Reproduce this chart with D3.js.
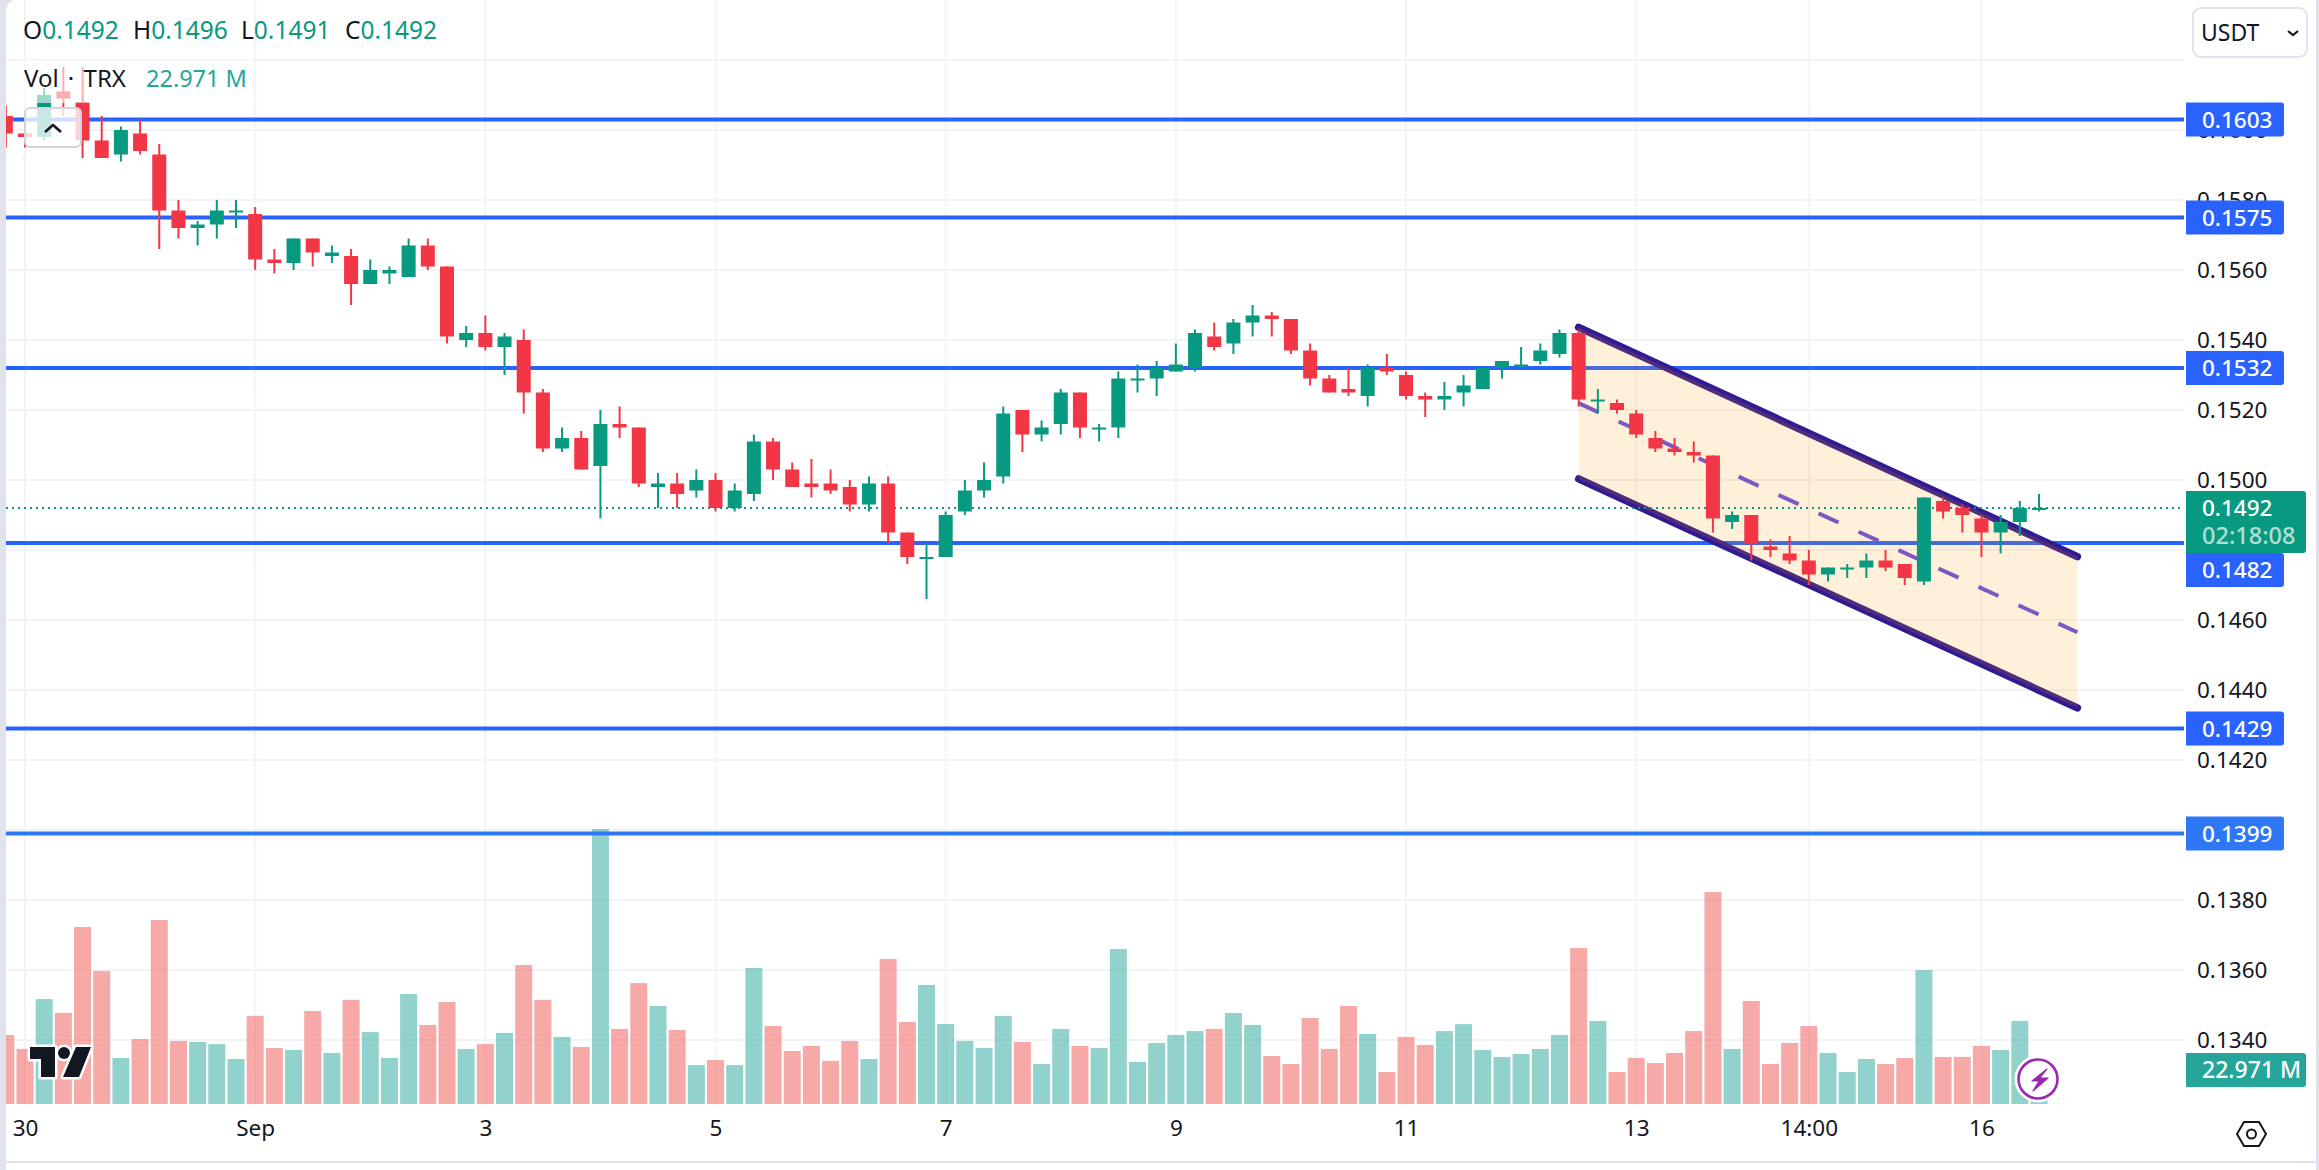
<!DOCTYPE html>
<html>
<head>
<meta charset="utf-8">
<title>TRX/USDT</title>
<script src="https://cdn.jsdelivr.net/npm/d3@7"></script>
<style>
  html, body { margin: 0; padding: 0; background: #fff; }
  svg { display: block; font-family: "Noto Sans", sans-serif; }
</style>
</head>
<body>
<svg id="chart" width="2319" height="1170"></svg>
<script>
// 4h candles, first one is cut off by the left edge of the pane
const firstBar = -1;
const opens = [0.1604,0.1599,0.1598,0.1611,0.1608,0.1597,0.1593,0.1599,0.1593,0.1577,0.1572,0.1573,0.1577,0.1576,0.1563,0.1562,0.1569,0.1564,0.1564,0.1556,0.1559,0.1558,0.1567,0.1561,0.1540,0.1542,0.1538,0.1540,0.1525,0.1509,0.1512,0.1504,0.1516,0.1515,0.1498,0.1499,0.1497,0.1500,0.1492,0.1496,0.1511,0.1503,0.1499,0.1499,0.1498,0.1493,0.1499,0.1485,0.1478,0.1478,0.1491,0.1497,0.1501,0.1520,0.1513,0.1516,0.1525,0.1515,0.1515,0.1529,0.1529,0.1531,0.1532,0.1541,0.1539,0.1545,0.1547,0.1546,0.1537,0.1529,0.1526,0.1524,0.1532,0.1530,0.1524,0.1523,0.1525,0.1526,0.1532,0.1533,0.1534,0.1536,0.1542,0.1523,0.1522,0.1519,0.1512,0.1509,0.1508,0.1507,0.1488,0.1490,0.1481,0.1479,0.1477,0.1473,0.1475,0.1475,0.1477,0.1476,0.1471,0.1494,0.1492,0.1489,0.1485,0.1488,0.1492];
const highs = [0.1607,0.1600,0.1612,0.1618,0.1618,0.1604,0.1601,0.1603,0.1596,0.1580,0.1574,0.1580,0.1580,0.1578,0.1566,0.1569,0.1569,0.1567,0.1566,0.1563,0.1561,0.1569,0.1569,0.1561,0.1544,0.1547,0.1542,0.1543,0.1526,0.1515,0.1514,0.1520,0.1521,0.1515,0.1502,0.1502,0.1503,0.1502,0.1499,0.1513,0.1512,0.1505,0.1506,0.1503,0.1500,0.1501,0.1501,0.1485,0.1482,0.1491,0.1500,0.1505,0.1521,0.1520,0.1517,0.1526,0.1525,0.1516,0.1531,0.1533,0.1534,0.1539,0.1543,0.1545,0.1546,0.1550,0.1548,0.1546,0.1539,0.1530,0.1532,0.1533,0.1536,0.1531,0.1525,0.1528,0.1530,0.1532,0.1534,0.1538,0.1539,0.1543,0.1543,0.1526,0.1523,0.1520,0.1514,0.1512,0.1511,0.1507,0.1491,0.1490,0.1483,0.1484,0.1480,0.1475,0.1476,0.1479,0.1480,0.1476,0.1495,0.1495,0.1493,0.1490,0.1490,0.1494,0.1496];
const lows = [0.1595,0.1595,0.1597,0.1604,0.1592,0.1592,0.1591,0.1593,0.1566,0.1569,0.1567,0.1569,0.1572,0.1560,0.1559,0.1560,0.1561,0.1562,0.1550,0.1556,0.1556,0.1558,0.1560,0.1539,0.1538,0.1537,0.1530,0.1519,0.1508,0.1508,0.1503,0.1489,0.1512,0.1498,0.1492,0.1492,0.1495,0.1491,0.1491,0.1494,0.1500,0.1498,0.1495,0.1496,0.1491,0.1491,0.1482,0.1476,0.1466,0.1478,0.1490,0.1495,0.1499,0.1508,0.1511,0.1513,0.1512,0.1511,0.1512,0.1525,0.1524,0.1531,0.1531,0.1537,0.1536,0.1541,0.1541,0.1536,0.1527,0.1525,0.1524,0.1521,0.1530,0.1523,0.1518,0.1520,0.1521,0.1526,0.1529,0.1532,0.1533,0.1535,0.1521,0.1519,0.1519,0.1512,0.1508,0.1507,0.1505,0.1485,0.1486,0.1477,0.1478,0.1476,0.1470,0.1471,0.1472,0.1472,0.1474,0.1470,0.1470,0.1489,0.1485,0.1478,0.1479,0.1484,0.1491];
const closes = [0.1599,0.1598,0.1610,0.1609,0.1597,0.1592,0.1600,0.1594,0.1577,0.1572,0.1573,0.1577,0.1577,0.1563,0.1562,0.1569,0.1565,0.1565,0.1556,0.1560,0.1560,0.1567,0.1561,0.1541,0.1542,0.1538,0.1541,0.1525,0.1509,0.1512,0.1503,0.1516,0.1515,0.1499,0.1499,0.1496,0.1500,0.1492,0.1497,0.1511,0.1503,0.1498,0.1498,0.1497,0.1493,0.1499,0.1485,0.1478,0.1478,0.1490,0.1497,0.1500,0.1519,0.1513,0.1515,0.1525,0.1515,0.1515,0.1529,0.1529,0.1532,0.1533,0.1542,0.1538,0.1545,0.1547,0.1546,0.1537,0.1529,0.1525,0.1525,0.1532,0.1531,0.1524,0.1523,0.1524,0.1527,0.1532,0.1534,0.1533,0.1537,0.1542,0.1523,0.1523,0.1520,0.1513,0.1509,0.1508,0.1507,0.1489,0.1490,0.1482,0.1480,0.1477,0.1473,0.1475,0.1475,0.1477,0.1475,0.1472,0.1495,0.1491,0.1490,0.1485,0.1488,0.1492,0.1492];
// volume in millions
const volumes = [46.6,37.2,70.9,61.5,119.6,89.9,31.1,43.9,124.3,42.6,41.9,40.5,30.4,59.5,37.8,36.5,62.8,34.5,70.3,48.6,31.1,74.3,53.4,68.9,37.2,40.5,48.0,93.9,70.3,45.3,38.5,185.8,50.7,81.7,66.2,50.0,26.3,29.7,26.3,91.9,52.7,35.8,39.2,29.1,42.6,30.4,98.0,55.4,80.4,54.0,42.6,37.8,59.5,41.9,27.0,50.7,39.2,37.8,104.7,28.4,41.2,46.6,49.3,50.7,61.5,53.4,32.4,27.0,58.1,37.2,66.2,47.3,21.6,45.3,39.9,49.3,54.0,36.5,31.8,33.8,37.2,46.6,105.4,56.1,21.6,31.1,27.7,34.5,49.3,143.2,37.2,69.6,27.0,41.2,52.7,34.5,21.6,30.4,27.0,31.1,90.5,31.8,31.8,39.2,36.5,56.1,22.971];

const priceTicks = [0.1620,0.1600,0.1580,0.1560,0.1540,0.1520,0.1500,0.1480,0.1460,0.1440,0.1420,0.1400,0.1380,0.1360,0.1340];
const levels = [0.1603,0.1575,0.1532,0.1482,0.1429,0.1399];
const timeTickBars = [0,12,24,36,48,60,72,84,93,102];
const timeTickLabels = ["30","Sep","3","5","7","9","11","13","14:00","16"];

// parallel channel drawn on the chart
const channelBars = [81,107];
const channelTop = [0.15436,0.14781];
const channelBottom = [0.15003,0.14349];

const lastPrice = 0.1492;
const countdown = "02:18:08";
const lastVolumeLabel = "22.971 M";
const ohlcLegend = [["O","0.1492"],["H","0.1496"],["L","0.1491"],["C","0.1492"]];

const green = "#089981", red = "#f23645", blue = "#2962ff", ink = "#131722";
const paneLeft = 6, paneRight = 2184, paneBottom = 1105;

const svg = d3.select("#chart");
const x = d3.scaleLinear().domain([0, 105]).range([25, 2039]);
const y = d3.scaleLinear().domain([0.15, 0.134]).range([480, 1040]);
const yVol = d3.scaleLinear().domain([0, 185.8]).range([1104, 829]);

const bars = opens.map((o, k) => ({
    i: k + firstBar, o: o, h: highs[k], l: lows[k], c: closes[k], v: volumes[k], up: closes[k] >= o
}));

svg.append("defs").append("clipPath").attr("id", "pane")
    .append("rect").attr("x", paneLeft).attr("y", 0)
    .attr("width", paneRight - paneLeft).attr("height", paneBottom);
svg.select("defs").append("clipPath").attr("id", "priceaxis")
    .append("rect").attr("x", paneRight).attr("y", 68).attr("width", 130).attr("height", 1040);

const plot = svg.append("g").attr("clip-path", "url(#pane)");

/* grid */
plot.selectAll("line.hgrid").data(priceTicks).join("line")
    .attr("x1", paneLeft).attr("x2", paneRight)
    .attr("y1", d => y(d)).attr("y2", d => y(d))
    .attr("stroke", "#f2f4f7").attr("stroke-width", 2);
plot.selectAll("line.vgrid").data(timeTickBars).join("line")
    .attr("class", "vgrid")
    .attr("x1", d => x(d)).attr("x2", d => x(d))
    .attr("y1", 0).attr("y2", paneBottom)
    .attr("stroke", "#f2f4f7").attr("stroke-width", 2);

/* volume */
plot.selectAll("rect.vol").data(bars).join("rect")
    .attr("class", "vol")
    .attr("x", d => x(d.i) - 8.5).attr("width", 17)
    .attr("y", d => yVol(d.v)).attr("height", d => yVol(0) - yVol(d.v))
    .attr("fill", d => d.up ? "rgba(38,166,154,0.5)" : "rgba(239,83,80,0.5)");

/* horizontal levels */
plot.selectAll("line.level").data(levels).join("line")
    .attr("class", "level")
    .attr("x1", paneLeft).attr("x2", paneRight)
    .attr("y1", d => y(d)).attr("y2", d => y(d))
    .attr("stroke", d => d == 0.1399 ? "#2f78f5" : blue).attr("stroke-width", 4);

/* channel */
const channelLine = d3.line().x(d => x(d[0])).y(d => y(d[1]));
const channelGroup = plot.append("g");
[channelTop, channelBottom].forEach(function(edge) {
    channelGroup.append("path")
        .attr("d", channelLine(channelBars.map((b, k) => [b, edge[k]])))
        .attr("fill", "none").attr("stroke", "#311b92")
        .attr("stroke-width", 7.5).attr("stroke-linecap", "round");
});
channelGroup.append("path")
    .attr("d", d3.area().x(d => x(d[0])).y0(d => y(d[1])).y1(d => y(d[2]))(
        channelBars.map((b, k) => [b, channelTop[k], channelBottom[k]])))
    .attr("fill", "rgba(255,152,0,0.15)");
channelGroup.append("path")
    .attr("d", channelLine(channelBars.map((b, k) => [b, (channelTop[k] + channelBottom[k]) / 2])))
    .attr("fill", "none").attr("stroke", "#7e57c2")
    .attr("stroke-width", 4).attr("stroke-dasharray", "22 22");

/* last price line */
plot.append("line")
    .attr("x1", paneLeft).attr("x2", paneRight)
    .attr("y1", y(lastPrice)).attr("y2", y(lastPrice))
    .attr("stroke", green).attr("stroke-width", 2).attr("stroke-dasharray", "2 4");

/* candles */
const candle = plot.selectAll("g.candle").data(bars).join("g").attr("class", "candle");
candle.append("line")
    .attr("x1", d => x(d.i)).attr("x2", d => x(d.i))
    .attr("y1", d => y(d.h)).attr("y2", d => y(d.l))
    .attr("stroke", d => d.up ? green : red).attr("stroke-width", 2);
candle.append("rect")
    .attr("x", d => x(d.i) - 7).attr("width", 14)
    .attr("y", d => y(Math.max(d.o, d.c)))
    .attr("height", d => Math.max(Math.abs(y(d.o) - y(d.c)), 2))
    .attr("fill", d => d.up ? green : red);

/* time axis */
const xAxis = d3.axisBottom(x).tickValues(timeTickBars).tickSize(0)
    .tickFormat((d, k) => timeTickLabels[k]);
const xg = svg.append("g").attr("transform", "translate(0,1117)").call(xAxis);
xg.select(".domain").remove();
xg.selectAll("text").attr("font-size", 22.5).attr("font-family", "Noto Sans").attr("fill", ink);

/* price axis */
const yAxis = d3.axisRight(y).tickValues(priceTicks).tickSize(0).tickFormat(d3.format(".4f"));
const yg = svg.append("g").attr("clip-path", "url(#priceaxis)")
    .append("g").attr("transform", "translate(2194,0)").call(yAxis);
yg.select(".domain").remove();
yg.selectAll("text").attr("font-size", 22.5).attr("font-family", "Noto Sans").attr("fill", ink);

/* level tags, right corners rounded */
function tagPath(x0, y0, w, h, r) {
    return "M" + x0 + "," + y0 + "H" + (x0 + w - r) + "Q" + (x0 + w) + "," + y0 + " " + (x0 + w) + "," + (y0 + r)
        + "V" + (y0 + h - r) + "Q" + (x0 + w) + "," + (y0 + h) + " " + (x0 + w - r) + "," + (y0 + h)
        + "H" + x0 + "Z";
}
const tagY = d => d == 0.1482 ? y(d) + 27 : y(d);
const tags = svg.selectAll("g.tag").data(levels).join("g").attr("class", "tag");
tags.append("path")
    .attr("d", d => tagPath(2186, tagY(d) - 17, 98, 34, 3))
    .attr("fill", d => d == 0.1399 ? "#2f78f5" : blue);
tags.append("text")
    .attr("x", 2202).attr("y", d => tagY(d) + 8)
    .attr("font-size", 22.5).attr("font-weight", 500).attr("fill", "#fff")
    .text(d => d.toFixed(4));

/* last price tag */
svg.append("path").attr("d", tagPath(2186, 491, 120, 62, 3)).attr("fill", green);
svg.append("text").attr("x", 2202).attr("y", 516).attr("font-size", 22.5).attr("font-weight", 500).attr("fill", "#fff")
    .text(lastPrice.toFixed(4));
svg.append("text").attr("x", 2202).attr("y", 544).attr("font-size", 23.5).attr("font-weight", 500).attr("fill", "rgba(255,255,255,0.7)")
    .text(countdown);

/* volume tag */
svg.append("path").attr("d", tagPath(2186, 1053, 120, 34, 3)).attr("fill", "#26a69a");
svg.append("text").attr("x", 2202).attr("y", 1078).attr("font-size", 23).attr("font-weight", 500).attr("fill", "#fff")
    .text(lastVolumeLabel);

/* legend */
svg.append("rect").attr("x", 20).attr("y", 60).attr("width", 232).attr("height", 43)
    .attr("fill", "rgba(255,255,255,0.6)");
const legendX = [23, 133, 241, 345];
const ohlc = svg.append("g").attr("font-size", 24.5);
ohlcLegend.forEach(function(d, k) {
    const t = ohlc.append("text").attr("x", legendX[k]).attr("y", 39);
    t.append("tspan").attr("fill", ink).text(d[0]);
    t.append("tspan").attr("fill", green).text(d[1]);
});
svg.append("text").attr("x", 24).attr("y", 87).attr("font-size", 24).attr("word-spacing", 3).attr("fill", ink).text("Vol · TRX");
svg.append("text").attr("x", 146).attr("y", 87).attr("font-size", 23.5).attr("fill", "#26a69a").text(lastVolumeLabel);

/* collapse button */
svg.append("rect").attr("x", 25).attr("y", 108).attr("width", 56).attr("height", 39).attr("rx", 5)
    .attr("fill", "rgba(255,255,255,0.78)").attr("stroke", "#d1d4dc").attr("stroke-width", 2);
svg.append("path").attr("d", "M45,132L53,125L61,132").attr("fill", "none")
    .attr("stroke", ink).attr("stroke-width", 2.5);

/* currency button */
svg.append("rect").attr("x", 2193).attr("y", 8).attr("width", 114).attr("height", 49).attr("rx", 8)
    .attr("fill", "#fff").attr("stroke", "#e0e3eb").attr("stroke-width", 2);
svg.append("text").attr("x", 2201).attr("y", 41).attr("font-size", 23).attr("fill", ink).text("USDT");
svg.append("path").attr("d", "M2288,31L2293,35L2298,31").attr("fill", "none")
    .attr("stroke", ink).attr("stroke-width", 2.2);

/* tradingview logo */
const logo = svg.append("g").attr("fill", ink).attr("stroke", "#fff").attr("stroke-width", 5)
    .attr("stroke-linejoin", "round").attr("paint-order", "stroke");
logo.append("path").attr("d", "M30,1047H55V1077H41V1059H30Z");
logo.append("circle").attr("cx", 64).attr("cy", 1053).attr("r", 6);
logo.append("path").attr("d", "M76,1047H91L79,1077H63Z");

/* lightning badge */
svg.append("circle").attr("cx", 2038).attr("cy", 1079).attr("r", 19.5)
    .attr("fill", "#fff").attr("stroke", "#fff").attr("stroke-width", 8);
svg.append("circle").attr("cx", 2038).attr("cy", 1079).attr("r", 19.5)
    .attr("fill", "#fff").attr("stroke", "#9c27b0").attr("stroke-width", 2.6);
svg.append("path").attr("d", "M2047,1069L2032,1081H2039L2033,1091L2048,1078H2040Z").attr("fill", "#9c27b0")
    .attr("stroke", "#9c27b0").attr("stroke-width", 1.2).attr("stroke-linejoin", "round");

/* settings hexagon */
svg.append("path").attr("d", "M2237,1134L2244,1122H2259L2266,1134L2259,1146H2244Z")
    .attr("fill", "none").attr("stroke", ink).attr("stroke-width", 2);
svg.append("circle").attr("cx", 2251.5).attr("cy", 1134).attr("r", 4.5)
    .attr("fill", "none").attr("stroke", ink).attr("stroke-width", 2);

/* outer frame */
svg.append("path").attr("d", "M0,0H14Q6,2 6,12V1170H0Z").attr("fill", "#e0e3eb");
svg.append("rect").attr("x", 2316).attr("y", 0).attr("width", 3).attr("height", 1170).attr("fill", "#e0e3eb");
svg.append("rect").attr("x", 6).attr("y", 1161).attr("width", 2310).attr("height", 2).attr("fill", "#e0e3eb");
</script>
</body>
</html>
